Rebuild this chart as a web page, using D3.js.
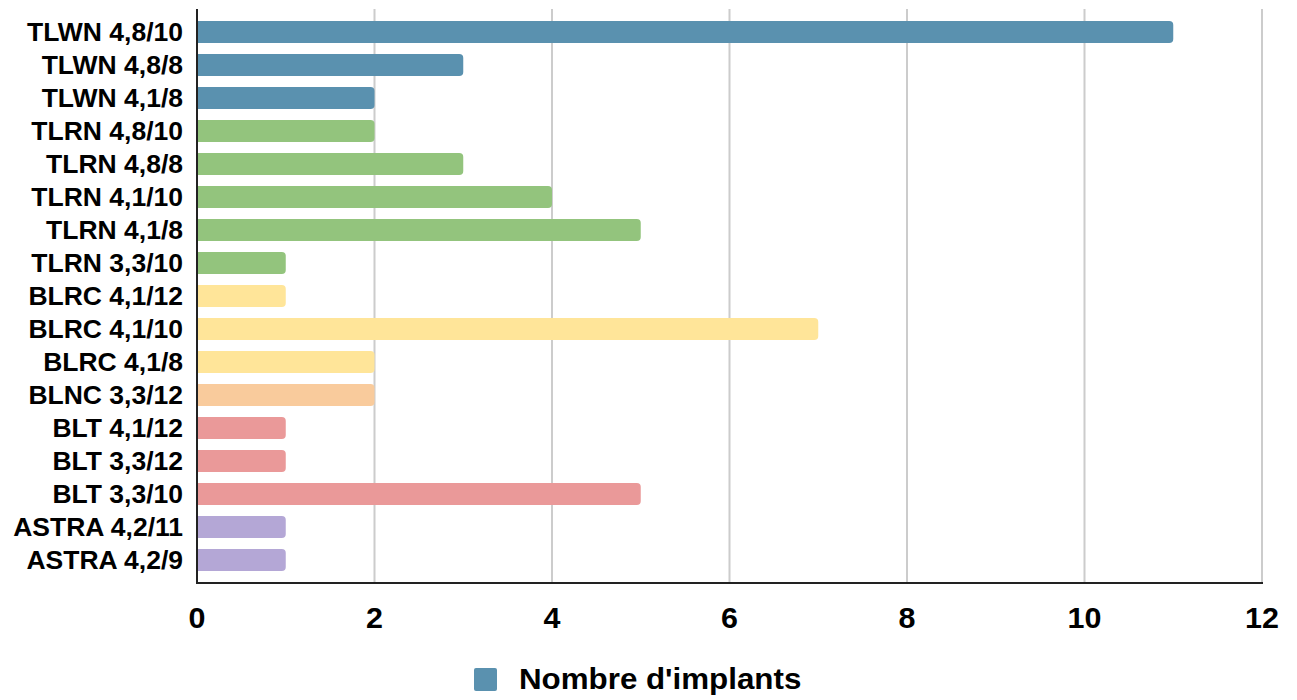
<!DOCTYPE html>
<html>
<head>
<meta charset="utf-8">
<script src="https://cdn.jsdelivr.net/npm/d3@7/dist/d3.min.js"></script>
<style>
  html, body { margin: 0; padding: 0; background: #fff; }
  svg { display: block; font-family: "Liberation Sans", Arial, sans-serif; }
</style>
</head>
<body>
<svg id="chart" width="1297" height="700"></svg>
<script>
// Implant references, top to bottom
const categories = [
  "TLWN 4,8/10", "TLWN 4,8/8", "TLWN 4,1/8",
  "TLRN 4,8/10", "TLRN 4,8/8", "TLRN 4,1/10", "TLRN 4,1/8", "TLRN 3,3/10",
  "BLRC 4,1/12", "BLRC 4,1/10", "BLRC 4,1/8",
  "BLNC 3,3/12",
  "BLT 4,1/12", "BLT 3,3/12", "BLT 3,3/10",
  "ASTRA 4,2/11", "ASTRA 4,2/9"
];
const counts = [11, 3, 2, 2, 3, 4, 5, 1, 1, 7, 2, 2, 1, 1, 5, 1, 1];
// Implant family of each bar (drives the fill colour)
const families = [
  "TLWN", "TLWN", "TLWN",
  "TLRN", "TLRN", "TLRN", "TLRN", "TLRN",
  "BLRC", "BLRC", "BLRC",
  "BLNC",
  "BLT", "BLT", "BLT",
  "ASTRA", "ASTRA"
];
const familyNames = ["TLWN", "TLRN", "BLRC", "BLNC", "BLT", "ASTRA"];
const familyColors = ["#5a91af", "#93c47d", "#ffe599", "#f9cb9c", "#ea9999", "#b4a7d6"];
const xTicks = [0, 2, 4, 6, 8, 10, 12];
const seriesName = "Nombre d'implants";

(function () {
  const svg = d3.select("#chart");
  const plotLeft = 197, plotRight = 1262, plotTop = 9, plotBottom = 583;

  const x = d3.scaleLinear().domain([0, 12]).range([plotLeft, plotRight]);
  const y = d3.scaleBand().domain(categories).range([15.5, 576.5]).paddingInner(1/3).paddingOuter(1/6);
  const color = d3.scaleOrdinal().domain(familyNames).range(familyColors);

  // Vertical grid lines
  svg.append("g").selectAll("line").data(xTicks.filter(t => t > 0)).join("line")
    .attr("x1", d => x(d)).attr("x2", d => x(d))
    .attr("y1", plotTop).attr("y2", plotBottom)
    .attr("stroke", "#cccccc").attr("stroke-width", 2);

  // Bars, with rounded corners on the value end only
  const r = 4;
  svg.append("g").selectAll("path").data(categories).join("path")
    .attr("fill", (d, i) => color(families[i]))
    .attr("d", (d, i) => {
      const x0 = x(0), x1 = x(counts[i]);
      const y0 = y(d), h = y.bandwidth();
      return `M${x0},${y0}H${x1 - r}Q${x1},${y0} ${x1},${y0 + r}V${y0 + h - r}Q${x1},${y0 + h} ${x1 - r},${y0 + h}H${x0}Z`;
    });

  // Axes
  svg.append("line").attr("x1", plotLeft).attr("x2", plotLeft).attr("y1", plotTop).attr("y2", plotBottom)
    .attr("stroke", "#222").attr("stroke-width", 2);
  svg.append("line").attr("x1", plotLeft - 1).attr("x2", plotRight + 1).attr("y1", plotBottom).attr("y2", plotBottom)
    .attr("stroke", "#222").attr("stroke-width", 2);

  // Category labels (slightly widened type)
  svg.append("g").selectAll("text").data(categories).join("text")
    .attr("transform", d => `translate(183,${y(d) + y.bandwidth() / 2}) scale(1.06,1)`)
    .attr("dy", "0.35em").attr("text-anchor", "end")
    .attr("font-size", 25).attr("font-weight", "bold").attr("fill", "#000")
    .text(d => d);

  // Value axis labels
  svg.append("g").selectAll("text").data(xTicks).join("text")
    .attr("transform", d => `translate(${x(d)},628) scale(1.05,1)`)
    .attr("text-anchor", "middle")
    .attr("font-size", 29).attr("font-weight", "bold").attr("fill", "#000")
    .text(d => d);

  // Legend
  const lg = svg.append("g");
  lg.append("rect").attr("x", 474).attr("y", 668).attr("width", 23).attr("height", 23).attr("rx", 2)
    .attr("fill", familyColors[0]);
  lg.append("text").attr("transform", "translate(519,689) scale(1.08,1)")
    .attr("font-size", 29).attr("font-weight", "bold").attr("fill", "#000")
    .text(seriesName);
})();
</script>
</body>
</html>
